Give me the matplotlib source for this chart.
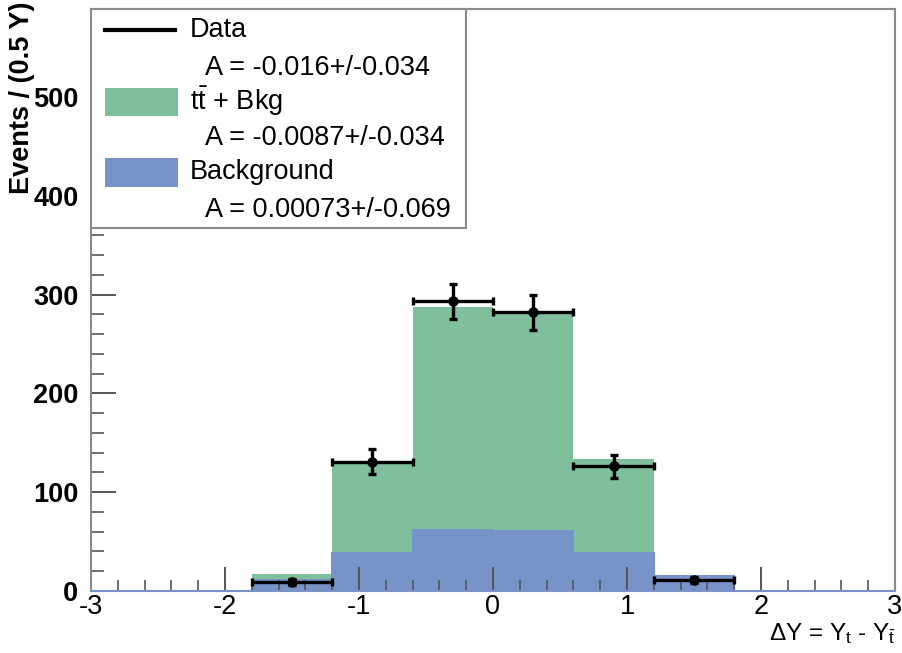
import numpy as np
import matplotlib
matplotlib.use("Agg")
import matplotlib.pyplot as plt
from matplotlib.patches import Rectangle
from matplotlib.lines import Line2D
from matplotlib.ticker import MultipleLocator

plt.rcParams["font.family"] = ["Liberation Sans", "DejaVu Sans"]
plt.rcParams["mathtext.fontset"] = "custom"
plt.rcParams["mathtext.rm"] = "Liberation Sans"
plt.rcParams["mathtext.it"] = "Liberation Sans:italic"
plt.rcParams["axes.unicode_minus"] = False

# Binning of Delta Y
bin_edges = [-3.0, -2.4, -1.8, -1.2, -0.6, 0.0, 0.6, 1.2, 1.8, 2.4, 3.0]

# Stacked prediction: ttbar + background (total) and background only
total_pred = [0, 0, 17, 131, 287, 280, 134, 16, 0, 0]
background = [0, 0, 11.5, 38, 62, 61, 38.5, 15, 0, 0]

# Observed data with statistical errors
data_counts = [0, 0, 9, 131, 293, 282, 126, 11, 0, 0]
data_errors = [0, 0, 3, 12.5, 18, 18, 12, 3.3, 0, 0]

legend_labels = ["Data", "A = -0.016+/-0.034",
                 r"$\mathrm{t\bar{t}}$ + Bkg", "A = -0.0087+/-0.034",
                 "Background", "A = 0.00073+/-0.069"]

green = "#80bf9b"
blue = "#7893c8"
frame_gray = "#8a8a8a"

fig = plt.figure(figsize=(9.02, 6.53), dpi=100)
ax = fig.add_axes([91 / 902, 62 / 653, 804 / 902, 582 / 653])

edges = np.array(bin_edges)
ax.stairs(total_pred, edges, fill=True, color=green, linewidth=0)
ax.stairs(background, edges, fill=True, color=blue, linewidth=0)
# zero-level outline of the histogram
ax.stairs(background, edges, fill=False, color=blue, linewidth=1.5, baseline=None)

centers = 0.5 * (edges[:-1] + edges[1:])
half_w = 0.5 * np.diff(edges)
counts = np.array(data_counts, dtype=float)
errs = np.array(data_errors, dtype=float)
mask = counts > 0
ax.errorbar(centers[mask], counts[mask], xerr=half_w[mask], yerr=errs[mask],
            fmt="o", color="black", markersize=6.5, elinewidth=2.4,
            capsize=3, capthick=2.4, zorder=5)

ax.set_xlim(-3, 3)
ax.set_ylim(0, 589)

ax.xaxis.set_major_locator(MultipleLocator(1))
ax.xaxis.set_minor_locator(MultipleLocator(0.2))
ax.yaxis.set_major_locator(MultipleLocator(100))
ax.yaxis.set_minor_locator(MultipleLocator(20))
ax.tick_params(axis="both", which="both", direction="in", color="#555555",
               top=False, right=False)
ax.tick_params(axis="y", which="major", length=18, width=1.4, pad=9,
               labelsize=19.5)
ax.tick_params(axis="y", which="minor", length=9, width=1.2)
ax.tick_params(axis="x", which="major", length=17, width=1.4, pad=2,
               labelsize=19.5)
ax.tick_params(axis="x", which="minor", length=8, width=1.2)
for lab in ax.get_yticklabels():
    lab.set_fontweight("bold")

for side in ["top", "right", "left"]:
    ax.spines[side].set_color(frame_gray)
    ax.spines[side].set_linewidth(1.5)
ax.spines["bottom"].set_color(blue)
ax.spines["bottom"].set_linewidth(1.5)

fig.text(895 / 902, 1 - 634 / 653, r"$\Delta$Y = Y$_\mathrm{t}$ - Y$_{\bar{\mathrm{t}}}$",
         ha="right", va="center", fontsize=17.5)
fig.text(22 / 902, 1 - 2 / 653, "Events / (0.5 Y)", rotation=90, ha="center",
         va="top", fontsize=19.5, fontweight="bold")

# Legend box
lx0, ly0, lx1, ly1 = 91, 9, 466, 228
tr = fig.transFigure


def fx(px):
    return px / 902


def fy(py):
    return 1 - py / 653


fig.patches.append(Rectangle((fx(lx0), fy(ly1)), fx(lx1) - fx(lx0), fy(ly0) - fy(ly1),
                             transform=tr, facecolor="white", edgecolor=frame_gray,
                             linewidth=1.5, zorder=10))
row_y = [30, 68, 101, 138, 172, 210]
fig.lines.append(Line2D([fx(105), fx(175)], [fy(row_y[0]), fy(row_y[0])],
                        transform=tr, color="black", linewidth=3, zorder=11))
fig.patches.append(Rectangle((fx(105), fy(116)), fx(178) - fx(105), fy(88) - fy(116),
                             transform=tr, facecolor=green, edgecolor="none", zorder=11))
fig.patches.append(Rectangle((fx(105), fy(187)), fx(178) - fx(105), fy(158) - fy(187),
                             transform=tr, facecolor=blue, edgecolor="none", zorder=11))
for i, (lab, yy) in enumerate(zip(legend_labels, row_y)):
    x = 190 if i % 2 == 0 else 205
    fig.text(fx(x), fy(yy), lab, ha="left", va="center", fontsize=19.5, zorder=12)

fig.savefig("out.png", dpi=100, facecolor="white")
